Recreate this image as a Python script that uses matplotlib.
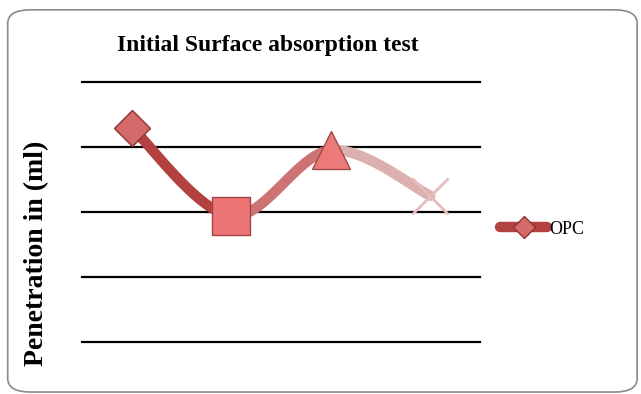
import numpy as np
import matplotlib
matplotlib.use("Agg")
import matplotlib.pyplot as plt
from matplotlib.patches import FancyBboxPatch
from matplotlib.lines import Line2D

title = "Initial Surface absorption test"
y_label = "Penetration in (ml)"
series_name = "OPC"
categories = ["1", "2", "3", "4"]
penetration = [3.3, 1.94, 2.95, 2.25]

seg_colors = ["#b3413f", "#cd7373", "#ddb0b0"]
markers = ["D", "s", "^", "x"]
marker_sizes = [18, 28, 27, 26]
marker_faces = ["#d46a6a", "#ec7474", "#ec7a7a", "#e6bcbc"]
marker_edges = ["#8c3432", "#a04444", "#a04848", "#e6bcbc"]


def catmull_rom(xs, ys, n=40):
    # smoothed path like a spreadsheet "smooth line"
    pts = np.column_stack([xs, ys])
    p = np.vstack([pts[0], pts, pts[-1]])
    segs = []
    for i in range(1, len(p) - 2):
        p0, p1, p2, p3 = p[i - 1], p[i], p[i + 1], p[i + 2]
        c1 = p1 + (p2 - p0) / 6
        c2 = p2 - (p3 - p1) / 6
        t = np.linspace(0, 1, n)[:, None]
        b = ((1 - t) ** 3) * p1 + 3 * ((1 - t) ** 2) * t * c1 + 3 * (1 - t) * t ** 2 * c2 + t ** 3 * p2
        segs.append(b)
    return segs


fig = plt.figure(figsize=(6.41, 3.94), dpi=100)
fig.patch.set_facecolor("white")

frame = FancyBboxPatch((0.012, 0.005), 0.982, 0.97,
                       boxstyle="round,pad=0,rounding_size=0.035",
                       transform=fig.transFigure, facecolor="none",
                       edgecolor="#8a8a8a", linewidth=1.2, zorder=-1)
fig.patches.append(frame)

ax = fig.add_axes([82 / 641, 1 - 342 / 394, 398 / 641, 260 / 394])
ax.set_xlim(0, 4)
ax.set_ylim(0, 4)
ax.patch.set_alpha(0)
for s in ax.spines.values():
    s.set_visible(False)
ax.set_xticks([])
ax.set_yticks([])
for g in range(5):
    ax.axhline(g, color="black", lw=1.6, zorder=1, clip_on=False)

xs = np.arange(len(categories)) + 0.5
for seg, c in zip(catmull_rom(xs, penetration), seg_colors):
    ax.plot(seg[:, 0], seg[:, 1], color=c, lw=7.5, solid_capstyle="round", zorder=2)

for x, y, m, ms, fc, ec in zip(xs, penetration, markers, marker_sizes, marker_faces, marker_edges):
    if m == "x":
        ax.plot(x, y, marker=m, ms=ms, mew=2.0, color=fc, zorder=3)
    else:
        ax.plot(x, y, marker=m, ms=ms, mfc=fc, mec=ec, mew=1.0, zorder=3)

fig.text(268 / 641, 1 - 45 / 394, title, ha="center", va="center",
         fontsize=17, fontweight="bold", family="Liberation Serif")
fig.text(37 / 641, 1 - 253 / 394, y_label, ha="center", va="center", rotation=90,
         fontsize=20, fontweight="bold", family="Liberation Serif")

handle = Line2D([], [], color=seg_colors[0], lw=7.5, marker="D", ms=11,
                mfc="#d46a6a", mec="#8c3432", solid_capstyle="round")
fig.legend([handle], [series_name], loc="center left",
           bbox_to_anchor=(484 / 641, 1 - 229 / 394), frameon=False,
           handlelength=2.6, handletextpad=0.1,
           prop={"family": "Liberation Serif", "size": 13})

fig.savefig("out.png", dpi=100)
